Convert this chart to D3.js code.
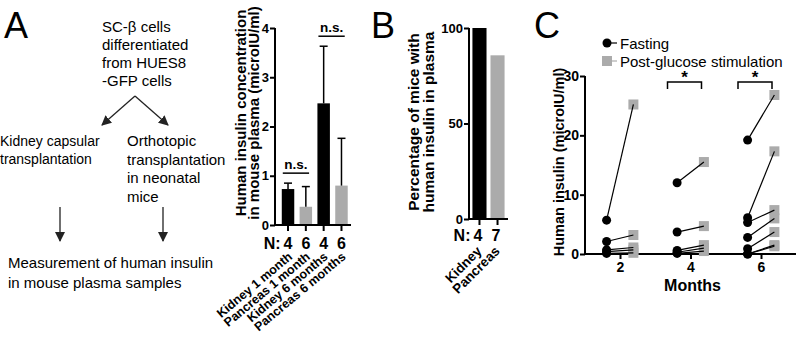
<!DOCTYPE html>
<html>
<head>
<meta charset="utf-8">
<script src="https://cdn.jsdelivr.net/npm/d3@7"></script>
<style>
  body { margin: 0; background: #fff; }
  svg { font-family: "Liberation Sans", Arial, sans-serif; display: block; }
</style>
</head>
<body>
<div id="chart"></div>
<script>
// ---- data ----
const flowTop = ['SC-\u03b2 cells', 'differentiated', 'from HUES8', '-GFP cells'];
const flowLeft = ['Kidney capsular', 'transplantation'];
const flowRight = ['Orthotopic', 'transplantation', 'in neonatal', 'mice'];
const flowBottom = ['Measurement of human insulin', 'in mouse plasma samples'];

const insulinGroups = ['Kidney 1 month', 'Pancreas 1 month', 'Kidney 6 months', 'Pancreas 6 months'];
const insulinMeans = [0.73, 0.37, 2.47, 0.80];
const insulinErr = [0.12, 0.41, 1.16, 0.96];
const insulinN = [4, 6, 4, 6];
const insulinTicks = [0, 1, 2, 3, 4];
const insulinSig = [[0, 1, 'n.s.'], [2, 3, 'n.s.']];

const pctGroups = ['Kidney', 'Pancreas'];
const pctValues = [100, 85.7];
const pctN = [4, 7];
const pctTicks = [0, 50, 100];

const months = [2, 4, 6];
const fastingByMonth = [
  [5.7, 2.1, 0.7, 0.4, 0.1],
  [12.0, 3.7, 0.6, 0.3, 0.1],
  [19.2, 6.1, 5.3, 2.8, 0.9, 0.0, 0.0]
];
const postByMonth = [
  [25.2, 3.2, 1.1, 0.7, 0.2],
  [15.5, 4.7, 1.5, 1.0, 0.5],
  [26.8, 17.3, 7.4, 6.0, 3.7, 1.5, 1.3]
];
const humanTicks = [0, 10, 20, 30];
const sigMonths = [4, 6];

const BLACK = '#000';
const GREY = '#ababab';
const FONT = '"Liberation Sans", Arial, sans-serif';
const intFmt = d3.format('d');

const svg = d3.select('#chart').append('svg')
  .attr('width', 796)
  .attr('height', 338);

svg.append('defs').append('marker')
  .attr('id', 'arrow')
  .attr('viewBox', '0 0 10 10')
  .attr('refX', 9).attr('refY', 5)
  .attr('markerWidth', 10).attr('markerHeight', 10)
  .attr('markerUnits', 'userSpaceOnUse')
  .attr('orient', 'auto')
  .append('path')
  .attr('d', 'M0,0 L10,5 L0,10 z')
  .attr('fill', '#222');

function panelLetter(label, x) {
  svg.append('text')
    .attr('x', x).attr('y', 38)
    .attr('font-size', 36)
    .text(label);
}

function textBlock(lines, x, y, step, size) {
  const t = svg.append('text').attr('font-size', size || 15);
  lines.forEach((line, i) => {
    t.append('tspan').attr('x', x).attr('y', y + i * step).text(line);
  });
}

function arrow(x1, y1, x2, y2) {
  svg.append('line')
    .attr('x1', x1).attr('y1', y1).attr('x2', x2).attr('y2', y2)
    .attr('stroke', '#222').attr('stroke-width', 1.3)
    .attr('marker-end', 'url(#arrow)');
}

function yTitle(lines, x, y, step, size) {
  const t = svg.append('text')
    .attr('transform', `translate(${x},${y}) rotate(-90)`)
    .attr('text-anchor', 'middle')
    .attr('font-weight', 'bold')
    .attr('font-size', size);
  lines.forEach((line, i) => {
    t.append('tspan').attr('x', 0).attr('y', i * step).text(line);
  });
}

function styleAxis(g, fontSize) {
  g.attr('font-family', FONT);
  g.select('.domain').remove();
  g.selectAll('.tick line').attr('stroke', BLACK).attr('stroke-width', 2);
  g.selectAll('.tick text')
    .attr('font-weight', 'bold')
    .attr('font-size', fontSize)
    .attr('fill', BLACK);
}

// ---- panel A: flow chart ----
panelLetter('A', 4);
textBlock(flowTop, 102, 32, 18);
arrow(135, 96, 102, 125);
arrow(135, 96, 168, 125);
textBlock(flowLeft, 0, 146, 18, 14);
textBlock(flowRight, 127, 146, 18.5);
arrow(60, 207, 60, 241);
arrow(163, 207, 163, 241);
textBlock(flowBottom, 8, 268, 19.5);

// ---- panel A: bar chart ----
(function drawInsulinBars() {
  const x = d3.scaleBand().domain(insulinGroups).range([280, 349.5])
    .paddingInner(0.3).paddingOuter(0.1);
  const y = d3.scaleLinear().domain([0, 4]).range([225, 28]);
  const axisX = 275;
  const g = svg.append('g');

  g.selectAll('rect.bar')
    .data(insulinGroups)
    .join('rect')
    .attr('class', 'bar')
    .attr('x', d => x(d))
    .attr('width', x.bandwidth())
    .attr('y', (d, i) => y(insulinMeans[i]))
    .attr('height', (d, i) => y(0) - y(insulinMeans[i]))
    .attr('fill', d => d.startsWith('Kidney') ? BLACK : GREY);

  // upper error bars
  insulinGroups.forEach((d, i) => {
    const cx = x(d) + x.bandwidth() / 2;
    const top = y(insulinMeans[i] + insulinErr[i]);
    g.append('line')
      .attr('x1', cx).attr('x2', cx)
      .attr('y1', y(insulinMeans[i])).attr('y2', top)
      .attr('stroke', BLACK).attr('stroke-width', 1.5);
    g.append('line')
      .attr('x1', cx - 4).attr('x2', cx + 4)
      .attr('y1', top).attr('y2', top)
      .attr('stroke', BLACK).attr('stroke-width', 1.5);
  });

  const yAxis = g.append('g')
    .attr('transform', `translate(${axisX},0)`)
    .call(d3.axisLeft(y).tickValues(insulinTicks).tickFormat(intFmt).tickSize(5).tickPadding(1));
  styleAxis(yAxis, 13);

  const xAxis = g.append('g')
    .attr('transform', `translate(0,${y(0)})`)
    .call(d3.axisBottom(x).tickSize(6).tickFormat(''));
  styleAxis(xAxis, 13);

  g.append('line')
    .attr('x1', axisX).attr('x2', axisX).attr('y1', y(4)).attr('y2', y(0) + 1)
    .attr('stroke', BLACK).attr('stroke-width', 2);
  g.append('line')
    .attr('x1', axisX - 1).attr('x2', 351).attr('y1', y(0)).attr('y2', y(0))
    .attr('stroke', BLACK).attr('stroke-width', 2);

  // significance lines
  insulinSig.forEach(([a, b, label]) => {
    const top = d3.min([a, b], i => y(insulinMeans[i] + insulinErr[i])) - 10;
    const x1 = x(insulinGroups[a]) + 1;
    const x2 = x(insulinGroups[b]) + x.bandwidth() - 3;
    g.append('line')
      .attr('x1', x1).attr('x2', x2).attr('y1', top).attr('y2', top)
      .attr('stroke', BLACK).attr('stroke-width', 1.5);
    g.append('text')
      .attr('x', (x1 + x2) / 2).attr('y', top - 4)
      .attr('text-anchor', 'middle')
      .attr('font-weight', 'bold').attr('font-size', 13.5)
      .text(label);
  });

  // N row
  const nY = y(0) + 24;
  g.append('text')
    .attr('x', x(insulinGroups[0]) + x.bandwidth() / 2 - 7.5).attr('y', nY)
    .attr('text-anchor', 'end')
    .attr('font-weight', 'bold').attr('font-size', 16)
    .text('N:');
  g.selectAll('text.n')
    .data(insulinN)
    .join('text')
    .attr('class', 'n')
    .attr('x', (d, i) => x(insulinGroups[i]) + x.bandwidth() / 2)
    .attr('y', nY)
    .attr('text-anchor', 'middle')
    .attr('font-weight', 'bold').attr('font-size', 16)
    .text(d => d);

  // rotated group labels
  g.selectAll('text.cat')
    .data(insulinGroups)
    .join('text')
    .attr('class', 'cat')
    .attr('transform', d => `translate(${x(d) + x.bandwidth() / 2 + 5},${y(0) + 33}) rotate(-40)`)
    .attr('text-anchor', 'end')
    .attr('font-weight', 'bold').attr('font-size', 12.5)
    .text(d => d);

  yTitle(['Human insulin concentration', 'in mouse plasma (microIU/ml)'], 245.5, 113, 13.5, 15);
})();

// ---- panel B ----
panelLetter('B', 371);
(function drawPercentBars() {
  const x = d3.scaleBand().domain(pctGroups).range([469, 508])
    .paddingInner(0.22).paddingOuter(0.19);
  const y = d3.scaleLinear().domain([0, 100]).range([219, 28]);
  const axisX = 469;
  const g = svg.append('g');

  g.selectAll('rect.bar')
    .data(pctGroups)
    .join('rect')
    .attr('class', 'bar')
    .attr('x', d => x(d))
    .attr('width', x.bandwidth())
    .attr('y', (d, i) => y(pctValues[i]))
    .attr('height', (d, i) => y(0) - y(pctValues[i]))
    .attr('fill', (d, i) => i === 0 ? BLACK : GREY);

  const yAxis = g.append('g')
    .attr('transform', `translate(${axisX},0)`)
    .call(d3.axisLeft(y).tickValues(pctTicks).tickFormat(intFmt).tickSize(5).tickPadding(1));
  styleAxis(yAxis, 13);

  const xAxis = g.append('g')
    .attr('transform', `translate(0,${y(0)})`)
    .call(d3.axisBottom(x).tickSize(6).tickFormat(''));
  styleAxis(xAxis, 13);

  g.append('line')
    .attr('x1', axisX).attr('x2', axisX).attr('y1', y(100)).attr('y2', y(0) + 1)
    .attr('stroke', BLACK).attr('stroke-width', 2);
  g.append('line')
    .attr('x1', axisX - 1).attr('x2', 508).attr('y1', y(0)).attr('y2', y(0))
    .attr('stroke', BLACK).attr('stroke-width', 2);

  const nY = y(0) + 22;
  g.append('text')
    .attr('x', x(pctGroups[0]) + x.bandwidth() / 2 - 9).attr('y', nY)
    .attr('text-anchor', 'end')
    .attr('font-weight', 'bold').attr('font-size', 16)
    .text('N:');
  g.selectAll('text.n')
    .data(pctN)
    .join('text')
    .attr('class', 'n')
    .attr('x', (d, i) => x(pctGroups[i]) + x.bandwidth() / 2 - 1.5)
    .attr('y', nY)
    .attr('text-anchor', 'middle')
    .attr('font-weight', 'bold').attr('font-size', 16)
    .text(d => d);

  g.selectAll('text.cat')
    .data(pctGroups)
    .join('text')
    .attr('class', 'cat')
    .attr('transform', d => `translate(${x(d) + x.bandwidth() / 2 + 3},${y(0) + 33}) rotate(-45)`)
    .attr('text-anchor', 'end')
    .attr('font-weight', 'bold').attr('font-size', 13.5)
    .text(d => d);

  yTitle(['Percentage of mice with', 'human insulin in plasma'], 419, 122, 14.5, 15.5);
})();

// ---- panel C ----
panelLetter('C', 534);
(function drawPaired() {
  const x = d3.scaleLinear().domain([2, 6]).range([620, 761]);
  const y = d3.scaleLinear().domain([0, 30]).range([254, 76]);
  const axisX = 585;
  const off = 0.38;
  const g = svg.append('g');

  const yAxis = g.append('g')
    .attr('transform', `translate(${axisX},0)`)
    .call(d3.axisLeft(y).tickValues(humanTicks).tickFormat(intFmt).tickSize(5).tickPadding(1));
  styleAxis(yAxis, 14);

  const xAxis = g.append('g')
    .attr('transform', `translate(0,${y(0)})`)
    .call(d3.axisBottom(x).tickValues(months).tickFormat(intFmt).tickSize(5).tickPadding(3));
  styleAxis(xAxis, 14);

  g.append('line')
    .attr('x1', axisX).attr('x2', axisX).attr('y1', y(30)).attr('y2', y(0) + 1)
    .attr('stroke', BLACK).attr('stroke-width', 2);
  g.append('line')
    .attr('x1', axisX - 1).attr('x2', 796).attr('y1', y(0)).attr('y2', y(0))
    .attr('stroke', BLACK).attr('stroke-width', 2);

  const pairs = [];
  months.forEach((m, mi) => {
    fastingByMonth[mi].forEach((f, k) => {
      pairs.push({ m, f, p: postByMonth[mi][k] });
    });
  });

  g.selectAll('rect.post')
    .data(pairs)
    .join('rect')
    .attr('class', 'post')
    .attr('x', d => x(d.m + off) - 5)
    .attr('y', d => y(d.p) - 5)
    .attr('width', 10).attr('height', 10)
    .attr('fill', GREY);

  g.selectAll('line.pair')
    .data(pairs)
    .join('line')
    .attr('class', 'pair')
    .attr('x1', d => x(d.m - off)).attr('y1', d => y(d.f))
    .attr('x2', d => x(d.m + off)).attr('y2', d => y(d.p))
    .attr('stroke', BLACK).attr('stroke-width', 1.2);

  g.selectAll('circle.fast')
    .data(pairs)
    .join('circle')
    .attr('class', 'fast')
    .attr('cx', d => x(d.m - off))
    .attr('cy', d => y(d.f))
    .attr('r', 4.5)
    .attr('fill', BLACK);

  // significance brackets
  sigMonths.forEach(m => {
    const x1 = x(m) - 23, x2 = x(m) + 11, top = 82;
    g.append('path')
      .attr('d', `M${x1},${top + 7}V${top}H${x2}V${top + 7}`)
      .attr('fill', 'none').attr('stroke', BLACK).attr('stroke-width', 1.5);
    g.append('text')
      .attr('x', x(m) - 6).attr('y', top + 1)
      .attr('text-anchor', 'middle')
      .attr('font-weight', 'bold').attr('font-size', 17)
      .text('*');
  });

  g.append('text')
    .attr('x', x(4) + 2).attr('y', 291)
    .attr('text-anchor', 'middle')
    .attr('font-weight', 'bold').attr('font-size', 16)
    .text('Months');

  // legend
  const lg = svg.append('g');
  lg.append('line').attr('x1', 607).attr('x2', 617).attr('y1', 43).attr('y2', 43)
    .attr('stroke', BLACK).attr('stroke-width', 1.2);
  lg.append('circle').attr('cx', 607).attr('cy', 43).attr('r', 4.5).attr('fill', BLACK);
  lg.append('text').attr('x', 620).attr('y', 48.5).attr('font-size', 15).text('Fasting');
  lg.append('line').attr('x1', 607).attr('x2', 617).attr('y1', 61).attr('y2', 61)
    .attr('stroke', GREY).attr('stroke-width', 1.2);
  lg.append('rect').attr('x', 602).attr('y', 56).attr('width', 10).attr('height', 10).attr('fill', GREY);
  lg.append('text').attr('x', 620).attr('y', 66.5).attr('font-size', 15).text('Post-glucose stimulation');

  yTitle(['Human insulin (microIU/ml)'], 564, 162, 0, 14.5);
})();
</script>
</body>
</html>
